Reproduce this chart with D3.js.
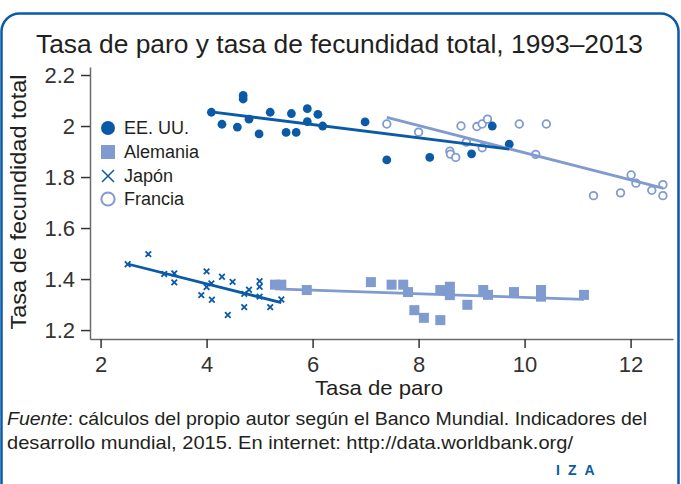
<!DOCTYPE html>
<html>
<head>
<meta charset="utf-8">
<script src="https://cdn.jsdelivr.net/npm/d3@7"></script>
<style>
  html, body { margin: 0; padding: 0; background: #fff; }
  svg { display: block; font-family: "Liberation Sans", Arial, sans-serif; }
</style>
</head>
<body>
<svg id="chart" width="681" height="484"></svg>
<script>
// ---------- DATA ----------
const title = "Tasa de paro y tasa de fecundidad total, 1993–2013";
const xLabel = "Tasa de paro";
const yLabel = "Tasa de fecundidad total";
const seriesNames = ["EE. UU.", "Alemania", "Japón", "Francia"];
const xTicks = [2, 4, 6, 8, 10, 12];
const yTicks = [1.2, 1.4, 1.6, 1.8, 2, 2.2];
const yTickLabels = ["1.2", "1.4", "1.6", "1.8", "2", "2.2"];

// [unemployment rate, total fertility rate]
const usaUnemp = [4.09, 4.29, 4.58, 4.69, 4.69, 4.80, 4.99, 5.20, 5.50, 5.60, 5.69, 5.90, 5.90, 6.10, 6.19, 6.99, 7.40, 8.21, 9.00, 9.39, 9.71];
const usaFert  = [2.054, 2.007, 1.996, 2.120, 2.106, 2.027, 1.969, 2.054, 1.975, 2.049, 1.975, 2.068, 2.017, 2.046, 2.000, 2.016, 1.867, 1.877, 1.891, 2.000, 1.929];

const gerUnemp = [5.29, 5.41, 5.89, 7.10, 7.49, 7.71, 7.80, 7.92, 8.10, 8.41, 8.59, 8.59, 8.41, 8.92, 9.22, 9.31, 9.80, 10.31, 10.31, 11.12];
const gerFert  = [1.378, 1.378, 1.357, 1.388, 1.378, 1.378, 1.349, 1.278, 1.248, 1.357, 1.370, 1.337, 1.239, 1.299, 1.357, 1.338, 1.349, 1.357, 1.331, 1.338];

const jpnUnemp = [2.51, 2.90, 3.20, 3.39, 3.39, 4.00, 4.00, 4.09, 3.90, 4.10, 4.29, 4.40, 4.49, 4.71, 4.80, 4.71, 5.00, 5.00, 5.00, 5.20, 5.41];
const jpnFert  = [1.458, 1.498, 1.420, 1.422, 1.387, 1.430, 1.369, 1.383, 1.337, 1.319, 1.409, 1.259, 1.389, 1.342, 1.358, 1.290, 1.392, 1.370, 1.331, 1.290, 1.320];

const fraUnemp = [7.40, 8.00, 8.59, 8.60, 8.70, 8.80, 8.90, 9.10, 9.20, 9.30, 9.20, 9.90, 10.41, 10.21, 11.30, 11.81, 12.01, 12.10, 12.40, 12.61, 12.61];
const fraFert  = [2.008, 1.976, 1.901, 1.890, 1.877, 2.000, 1.937, 1.998, 2.008, 2.027, 1.915, 2.008, 2.008, 1.889, 1.727, 1.738, 1.808, 1.776, 1.748, 1.770, 1.727];

// ---------- STYLE ----------
const dark = "#0a5aa8";
const light = "#7f9bcf";
const textCol = "#231f20";
const axisCol = "#6b6b6b";

const svg = d3.select("#chart");

// frame
svg.append("rect")
  .attr("x", 1.5).attr("y", 13.5).attr("width", 677).attr("height", 490)
  .attr("rx", 18).attr("ry", 18)
  .attr("fill", "none").attr("stroke", dark).attr("stroke-width", 2.5);

// title
svg.append("text")
  .attr("x", 36).attr("y", 53)
  .attr("font-size", 26).attr("fill", textCol)
  .attr("textLength", 607).attr("lengthAdjust", "spacingAndGlyphs")
  .text(title);

// scales
const x = d3.scaleLinear().domain([1.8, 12.8]).range([90, 673]);
const y = d3.scaleLinear().domain([1.165, 2.2314]).range([339, 67]);

// axes
const xAxis = svg.append("g").attr("transform", `translate(0,${y(1.165)})`)
  .call(d3.axisBottom(x).tickValues(xTicks).tickSize(9).tickSizeOuter(0).tickPadding(8).tickFormat(d3.format("d")));
const yAxis = svg.append("g").attr("transform", `translate(${x(1.8)},0)`)
  .call(d3.axisLeft(y).tickValues(yTicks).tickSize(9).tickSizeOuter(0).tickPadding(6)
    .tickFormat((d, i) => yTickLabels[i]));

[xAxis, yAxis].forEach(g => {
  g.select(".domain").attr("stroke", axisCol).attr("stroke-width", 1.5);
  g.selectAll(".tick line").attr("stroke", "#333").attr("stroke-width", 1.5);
  g.selectAll(".tick text").attr("fill", "#333").attr("font-size", 22)
    .attr("font-family", "'Liberation Sans', Arial, sans-serif");
});

// axis titles
svg.append("text")
  .attr("x", 379).attr("y", 395).attr("text-anchor", "middle")
  .attr("font-size", 21).attr("fill", textCol)
  .attr("textLength", 128).attr("lengthAdjust", "spacingAndGlyphs")
  .text(xLabel);
svg.append("text")
  .attr("transform", `translate(26,202) rotate(-90)`)
  .attr("text-anchor", "middle")
  .attr("font-size", 22).attr("fill", textCol)
  .attr("textLength", 255).attr("lengthAdjust", "spacingAndGlyphs")
  .text(yLabel);

// regression helper
function ols(xs, ys) {
  const mx = d3.mean(xs), my = d3.mean(ys);
  let sxy = 0, sxx = 0;
  xs.forEach((v, i) => { sxy += (v - mx) * (ys[i] - my); sxx += (v - mx) ** 2; });
  const b = sxy / sxx, a = my - b * mx;
  const x0 = d3.min(xs), x1 = d3.max(xs);
  return [[x0, a + b * x0], [x1, a + b * x1]];
}
const line = d3.line().x(d => x(d[0])).y(d => y(d[1]));

const zip = (a, b) => a.map((v, i) => [v, b[i]]);
const usa = zip(usaUnemp, usaFert);
const ger = zip(gerUnemp, gerFert);
const jpn = zip(jpnUnemp, jpnFert);
const fra = zip(fraUnemp, fraFert);

const plot = svg.append("g");

// Germany squares
plot.selectAll(".ger").data(ger).join("rect")
  .attr("x", d => x(d[0]) - 5).attr("y", d => y(d[1]) - 5)
  .attr("width", 10).attr("height", 10).attr("fill", light);

// Japan x marks
plot.selectAll(".jpn").data(jpn).join("path")
  .attr("d", d => {
    const cx = x(d[0]), cy = y(d[1]), s = 2.8;
    return `M${cx - s},${cy - s}L${cx + s},${cy + s}M${cx - s},${cy + s}L${cx + s},${cy - s}`;
  })
  .attr("stroke", dark).attr("stroke-width", 1.8).attr("fill", "none");

// France open circles
plot.selectAll(".fra").data(fra).join("circle")
  .attr("cx", d => x(d[0])).attr("cy", d => y(d[1])).attr("r", 3.8)
  .attr("fill", "#fff").attr("stroke", light).attr("stroke-width", 1.8);

// USA filled circles
plot.selectAll(".usa").data(usa).join("circle")
  .attr("cx", d => x(d[0])).attr("cy", d => y(d[1])).attr("r", 4.4)
  .attr("fill", dark);

// trend lines
[[ger, light], [jpn, dark], [fra, light], [usa, dark]].forEach(([pts, col]) => {
  plot.append("path")
    .attr("d", line(ols(pts.map(p => p[0]), pts.map(p => p[1]))))
    .attr("stroke", col).attr("stroke-width", 2.8).attr("fill", "none");
});

// legend
const lg = svg.append("g");
const ly = [128, 152, 176, 199];
lg.append("circle").attr("cx", 108).attr("cy", ly[0]).attr("r", 7).attr("fill", dark);
lg.append("rect").attr("x", 101).attr("y", ly[1] - 7).attr("width", 14).attr("height", 14).attr("fill", light);
lg.append("path")
  .attr("d", `M102,${ly[2] - 6}L114,${ly[2] + 6}M102,${ly[2] + 6}L114,${ly[2] - 6}`)
  .attr("stroke", dark).attr("stroke-width", 1.5).attr("fill", "none");
lg.append("circle").attr("cx", 108).attr("cy", ly[3]).attr("r", 6.6)
  .attr("fill", "#fff").attr("stroke", light).attr("stroke-width", 2);
lg.selectAll("text").data(seriesNames).join("text")
  .attr("x", 124).attr("y", (d, i) => ly[i]).attr("dy", "0.36em")
  .attr("font-size", 18).attr("fill", textCol)
  .text(d => d);

// footer
const f1 = svg.append("text").attr("x", 7).attr("y", 425).attr("font-size", 19).attr("fill", textCol)
  .attr("textLength", 640).attr("lengthAdjust", "spacingAndGlyphs");
f1.append("tspan").attr("font-style", "italic").text("Fuente");
f1.append("tspan").text(": cálculos del propio autor según el Banco Mundial. Indicadores del");
svg.append("text").attr("x", 7).attr("y", 449).attr("font-size", 19).attr("fill", textCol)
  .attr("textLength", 566).attr("lengthAdjust", "spacingAndGlyphs")
  .text("desarrollo mundial, 2015. En internet: http://data.worldbank.org/");

// IZA logo
svg.append("text").attr("x", 556).attr("y", 475).attr("font-size", 14).attr("font-weight", "bold")
  .attr("fill", dark).attr("letter-spacing", 8).text("IZA");
</script>
</body>
</html>
